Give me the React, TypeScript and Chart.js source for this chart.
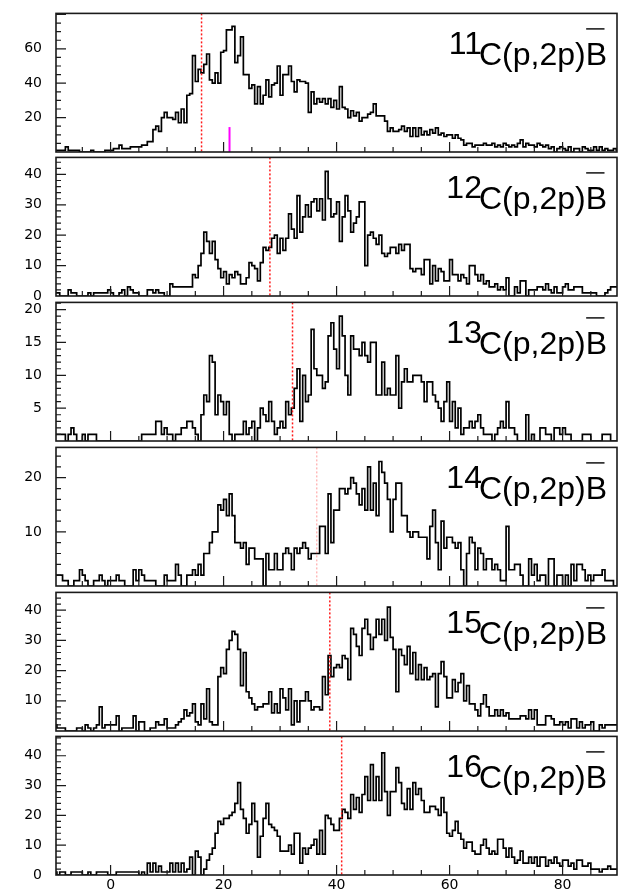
import React, { useEffect, useRef } from "react";
import { Chart, registerables } from "chart.js";

Chart.register(...registerables);

// ---------------- data ----------------
const BIN_LOW = -10;
const BIN_WIDTH = 0.5;
const X_MIN = -9.66;
const X_MAX = 89.63;

const counts11C = [
  1, 1, 1, 1, 3, 1, 1, 1, 1, 0, 0, 0, 0, 1, 0, 0, 0, 0, 1, 1,
  1, 2, 2, 4, 2, 2, 2, 3, 3, 3, 3, 4, 4, 6, 6, 13, 15, 12, 20, 23,
  20, 20, 19, 23, 17, 25, 17, 33, 34, 56, 41, 48, 46, 51, 57, 42, 40, 46, 40, 58,
  59, 71, 71, 73, 52, 56, 67, 45, 45, 37, 39, 28, 38, 28, 33, 42, 32, 39, 40, 50,
  33, 45, 45, 50, 41, 35, 42, 41, 41, 40, 23, 35, 28, 31, 29, 31, 28, 31, 26, 30,
  25, 38, 26, 25, 20, 24, 21, 23, 18, 20, 20, 22, 23, 28, 21, 21, 21, 18, 12, 14,
  12, 12, 13, 15, 12, 14, 9, 14, 9, 14, 10, 12, 10, 13, 11, 14, 10, 11, 9, 10,
  10, 8, 10, 8, 7, 4, 5, 5, 3, 4, 4, 4, 5, 4, 4, 5, 3, 4, 3, 5,
  4, 3, 4, 3, 5, 7, 3, 5, 4, 4, 3, 5, 4, 3, 4, 2, 3, 0, 2, 3,
  2, 1, 3, 0, 2, 2, 0, 3, 2, 1, 1, 3, 1, 3, 1, 2, 1, 1, 2, 1,
];

const counts12C = [
  1, 1, 0, 0, 0, 2, 1, 1, 0, 0, 0, 0, 1, 0, 1, 1, 1, 1, 1, 2,
  1, 0, 0, 1, 2, 0, 3, 2, 1, 1, 0, 0, 0, 2, 2, 1, 2, 1, 1, 0,
  0, 4, 3, 3, 3, 3, 3, 3, 3, 7, 6, 10, 14, 21, 18, 14, 18, 12, 9, 6,
  8, 4, 7, 6, 8, 7, 4, 4, 6, 11, 10, 9, 5, 11, 16, 15, 16, 19, 20, 14,
  19, 15, 19, 27, 22, 19, 33, 21, 26, 30, 26, 31, 32, 28, 32, 25, 41, 32, 26, 27,
  31, 18, 26, 33, 28, 21, 24, 26, 31, 31, 10, 20, 21, 19, 17, 20, 14, 13, 14, 16,
  16, 14, 17, 15, 17, 17, 9, 8, 9, 9, 7, 12, 12, 4, 10, 5, 9, 8, 5, 5,
  12, 7, 7, 5, 7, 6, 4, 10, 10, 7, 5, 7, 4, 5, 3, 3, 4, 2, 3, 2,
  6, 0, 0, 3, 1, 5, 5, 0, 2, 2, 2, 3, 3, 2, 4, 2, 1, 3, 1, 1,
  3, 4, 2, 2, 3, 3, 3, 1, 1, 1, 1, 1, 0, 0, 0, 1, 2, 3, 3, 3,
];

const counts13C = [
  1, 1, 1, 1, 0, 1, 2, 1, 0, 0, 1, 0, 1, 1, 1, 0, 0, 0, 0, 0,
  0, 0, 0, 0, 0, 0, 0, 0, 0, 0, 0, 1, 1, 1, 1, 1, 3, 3, 1, 2,
  1, 1, 0, 1, 1, 2, 2, 3, 3, 2, 1, 0, 4, 7, 6, 13, 12, 4, 7, 6,
  4, 6, 1, 0, 1, 1, 1, 3, 1, 2, 3, 0, 2, 5, 4, 3, 6, 3, 1, 2,
  3, 2, 6, 4, 5, 8, 11, 3, 10, 6, 7, 17, 11, 10, 10, 8, 9, 16, 18, 14,
  11, 19, 16, 10, 7, 16, 14, 14, 13, 15, 13, 12, 15, 15, 7, 7, 12, 7, 8, 7,
  7, 13, 5, 9, 11, 9, 9, 10, 10, 10, 9, 6, 9, 9, 7, 6, 5, 3, 6, 9,
  3, 6, 2, 5, 1, 2, 2, 3, 2, 3, 4, 2, 1, 1, 1, 0, 1, 2, 3, 2,
  6, 2, 2, 1, 0, 0, 0, 4, 0, 1, 0, 0, 2, 2, 1, 1, 0, 2, 2, 1,
  2, 1, 1, 0, 0, 0, 0, 1, 1, 1, 0, 0, 0, 0, 1, 1, 1, 0, 0, 0,
];

const counts14C = [
  2, 2, 2, 1, 1, 0, 0, 1, 1, 3, 2, 1, 0, 0, 1, 1, 2, 1, 0, 1,
  1, 1, 2, 1, 1, 0, 0, 0, 3, 1, 3, 2, 1, 1, 1, 1, 0, 0, 0, 2,
  1, 1, 1, 4, 2, 0, 0, 2, 2, 3, 2, 4, 2, 6, 6, 8, 10, 10, 15, 14,
  16, 13, 17, 13, 8, 8, 7, 8, 4, 7, 7, 5, 5, 5, 0, 6, 3, 3, 6, 3,
  3, 6, 7, 6, 3, 7, 6, 7, 8, 7, 5, 6, 6, 6, 11, 11, 6, 17, 8, 14,
  14, 18, 18, 17, 18, 20, 19, 17, 15, 18, 14, 22, 14, 19, 13, 23, 21, 19, 16, 10,
  16, 19, 19, 13, 13, 10, 9, 10, 10, 9, 9, 9, 5, 11, 14, 8, 3, 12, 7, 9,
  9, 8, 7, 8, 3, 0, 6, 9, 8, 3, 7, 6, 3, 5, 5, 3, 4, 3, 1, 1,
  11, 3, 3, 4, 4, 2, 0, 0, 5, 2, 4, 1, 2, 2, 0, 5, 5, 0, 2, 2,
  0, 2, 0, 4, 1, 4, 4, 3, 1, 2, 1, 2, 2, 2, 3, 1, 1, 1, 0, 0,
];

const counts15C = [
  2, 1, 1, 1, 0, 0, 0, 0, 1, 1, 0, 2, 1, 0, 1, 2, 8, 1, 2, 2,
  2, 2, 5, 0, 1, 1, 1, 1, 5, 0, 3, 3, 0, 0, 1, 1, 3, 2, 2, 4,
  1, 1, 1, 2, 3, 4, 7, 5, 6, 9, 3, 2, 9, 4, 14, 3, 2, 2, 18, 21,
  19, 27, 30, 33, 32, 27, 15, 26, 13, 11, 9, 7, 8, 8, 9, 9, 13, 6, 9, 6,
  14, 11, 7, 14, 2, 10, 3, 10, 10, 13, 10, 7, 8, 8, 7, 18, 12, 25, 18, 21,
  22, 21, 25, 24, 17, 34, 32, 28, 25, 34, 37, 32, 27, 31, 37, 32, 37, 30, 41, 31,
  27, 13, 27, 25, 22, 28, 19, 26, 17, 22, 17, 21, 17, 18, 19, 8, 19, 23, 18, 11,
  11, 17, 13, 16, 19, 10, 15, 9, 9, 7, 5, 9, 12, 8, 5, 5, 7, 5, 7, 5,
  6, 4, 4, 4, 4, 5, 5, 4, 7, 4, 7, 2, 2, 2, 5, 5, 4, 2, 2, 3,
  2, 3, 1, 4, 4, 1, 3, 1, 2, 2, 3, 0, 0, 2, 1, 2, 2, 2, 2, 2,
];

const counts16C = [
  1, 0, 1, 1, 0, 0, 1, 1, 1, 1, 0, 0, 1, 0, 0, 1, 1, 1, 1, 0,
  0, 0, 1, 1, 1, 1, 1, 1, 1, 1, 0, 1, 0, 4, 1, 4, 1, 3, 1, 1,
  1, 4, 1, 4, 1, 4, 1, 2, 6, 0, 8, 6, 0, 2, 5, 7, 9, 14, 18, 17,
  19, 19, 20, 21, 24, 31, 22, 19, 14, 17, 24, 18, 6, 13, 19, 24, 17, 16, 15, 13,
  8, 8, 8, 10, 7, 14, 14, 4, 9, 7, 9, 10, 12, 7, 15, 7, 20, 19, 17, 15,
  15, 19, 22, 21, 19, 27, 22, 26, 21, 27, 33, 25, 37, 25, 33, 25, 41, 28, 20, 28,
  28, 36, 31, 24, 22, 29, 22, 31, 27, 29, 25, 21, 21, 23, 23, 22, 20, 26, 21, 14,
  13, 15, 18, 14, 12, 9, 11, 11, 8, 7, 7, 10, 12, 9, 7, 8, 7, 12, 12, 9,
  6, 9, 6, 4, 5, 8, 4, 4, 6, 4, 6, 3, 6, 6, 3, 5, 4, 6, 4, 3,
  5, 5, 3, 4, 2, 5, 5, 3, 3, 4, 2, 2, 2, 1, 2, 2, 3, 2, 2, 2,
];

const histograms = [counts11C, counts12C, counts13C, counts14C, counts15C, counts16C];
const massNumbers = ["11", "12", "13", "14", "15", "16"];
const cutPositions = [16.1, 28.2, 32.2, 36.5, 38.8, 40.9];
const yMaxima = [80.6, 45.6, 21.1, 25.6, 45.9, 46.5];
const yMajorSteps = [20, 10, 5, 10, 10, 10];
const yMinorSteps = [5, 2, 1, 2, 2, 2];
const yTickLabels = [
  [20, 40, 60],
  [0, 10, 20, 30, 40],
  [5, 10, 15, 20],
  [10, 20],
  [10, 20, 30, 40],
  [0, 10, 20, 30, 40],
];
const xTickLabels = [0, 20, 40, 60, 80];
const markerX = 21.05;
const markerHeight = 14.5;

// ---------------- layout ----------------
const PANEL_TOPS = [11, 155, 300, 445, 590, 734];
const PANEL_HEIGHT = 141;
const PAD_TOP = 20;
const AXIS_HEIGHT = 24;
const CANVAS_W = 619;
const CANVAS_H = PAD_TOP + PANEL_HEIGHT + AXIS_HEIGHT;

const TICK_FONT = '"DejaVu Sans", "Liberation Sans", sans-serif';
const LABEL_FONT = '"Liberation Sans", Arial, Helvetica, sans-serif';

function Panel({ index }: { index: number }) {
  const ref = useRef<HTMLCanvasElement>(null);

  useEffect(() => {
    const canvas = ref.current;
    if (!canvas) return;
    const counts = histograms[index];
    const points = counts.map((c, i) => ({ x: BIN_LOW + i * BIN_WIDTH, y: c }));
    points.push({ x: BIN_LOW + counts.length * BIN_WIDTH, y: counts[counts.length - 1] });
    const isLast = index === histograms.length - 1;
    const major = yMajorSteps[index];
    const minor = yMinorSteps[index];
    const yMax = yMaxima[index];

    const decor = {
      id: "decor",
      afterDatasetsDraw(chart: any) {
        const { ctx, chartArea: a } = chart;
        const xs = chart.scales.x;
        const ys = chart.scales.y;
        ctx.save();

        // cut line
        const cx = xs.getPixelForValue(cutPositions[index]);
        ctx.strokeStyle = index === 3 ? "rgba(255,70,70,0.55)" : "#ff1a1a";
        ctx.lineWidth = index === 3 ? 1 : 1.5;
        ctx.setLineDash([2, 2]);
        ctx.beginPath();
        ctx.moveTo(cx, a.top);
        ctx.lineTo(cx, a.bottom);
        ctx.stroke();
        ctx.setLineDash([]);

        // magenta marker (first panel)
        if (index === 0) {
          const mx = xs.getPixelForValue(markerX);
          ctx.strokeStyle = "#ff00ff";
          ctx.lineWidth = 2;
          ctx.beginPath();
          ctx.moveTo(mx, ys.getPixelForValue(0));
          ctx.lineTo(mx, ys.getPixelForValue(markerHeight));
          ctx.stroke();
        }

        // frame
        ctx.strokeStyle = "#1a1a1a";
        ctx.lineWidth = 1.6;
        ctx.strokeRect(a.left, a.top, a.right - a.left, a.bottom - a.top);

        // inward ticks
        ctx.lineWidth = 1.2;
        ctx.beginPath();
        for (let v = -5; v < X_MAX; v += 5) {
          const px = xs.getPixelForValue(v);
          const len = v % 20 === 0 ? 10 : 5;
          ctx.moveTo(px, a.bottom);
          ctx.lineTo(px, a.bottom - len);
        }
        for (let k = 1; k * minor <= yMax; k++) {
          const v = k * minor;
          const py = ys.getPixelForValue(v);
          const r = v / major;
          const len = Math.abs(r - Math.round(r)) < 1e-6 ? 10 : 5;
          ctx.moveTo(a.left, py);
          ctx.lineTo(a.left + len, py);
        }
        ctx.stroke();

        // reaction label
        ctx.fillStyle = "#000";
        ctx.font = `32px ${LABEL_FONT}`;
        ctx.textBaseline = "alphabetic";
        const main = "C(p,2p)";
        const wB = ctx.measureText("B").width;
        const wMain = ctx.measureText(main).width;
        const right = a.right - 10;
        const xB = right - wB;
        const x0 = xB - wMain;
        const baseY = a.top + 52;
        ctx.textAlign = "left";
        ctx.fillText(main, x0, baseY);
        ctx.fillText("B", xB, baseY);
        ctx.textAlign = "right";
        ctx.fillText(massNumbers[index], x0 + 3, baseY - 11);
        ctx.strokeStyle = "#000";
        ctx.lineWidth = 1.4;
        ctx.beginPath();
        ctx.moveTo(xB + 0.5, a.top + 15.5);
        ctx.lineTo(xB + wB - 2.5, a.top + 15.5);
        ctx.stroke();

        ctx.restore();
      },
    };

    const chart = new Chart(canvas, {
      type: "line",
      data: {
        datasets: [
          {
            data: points,
            borderColor: "#000",
            borderWidth: 1.7,
            pointRadius: 0,
            stepped: true,
            fill: false,
            tension: 0,
            borderJoinStyle: "miter",
            borderCapStyle: "butt",
          } as any,
        ],
      },
      options: {
        responsive: false,
        animation: false,
        devicePixelRatio: 1,
        events: [],
        layout: { padding: { top: PAD_TOP, right: 2, bottom: 0, left: 0 } },
        plugins: {
          legend: { display: false },
          tooltip: { enabled: false },
          title: { display: false },
        },
        scales: {
          x: {
            type: "linear",
            min: X_MIN,
            max: X_MAX,
            grid: { display: false, drawTicks: false },
            border: { display: false },
            afterBuildTicks: (s: any) => {
              s.ticks = xTickLabels.map((v) => ({ value: v }));
            },
            afterFit: (s: any) => {
              s.height = AXIS_HEIGHT;
            },
            ticks: {
              display: isLast,
              autoSkip: false,
              maxRotation: 0,
              padding: 2,
              color: "#000",
              font: { family: TICK_FONT, size: 14 },
              callback: (v: any) => String(v),
            },
          },
          y: {
            type: "linear",
            min: 0,
            max: yMax,
            grid: { display: false, drawTicks: false },
            border: { display: false },
            afterBuildTicks: (s: any) => {
              s.ticks = yTickLabels[index].map((v) => ({ value: v }));
            },
            afterFit: (s: any) => {
              s.width = 56;
            },
            ticks: {
              autoSkip: false,
              padding: 14,
              color: "#000",
              font: { family: TICK_FONT, size: 14 },
              callback: (v: any) => String(v),
            },
          },
        },
      } as any,
      plugins: [decor],
    });
    return () => chart.destroy();
  }, [index]);

  return (
    <canvas
      ref={ref}
      width={CANVAS_W}
      height={CANVAS_H}
      style={{ position: "absolute", left: 0, top: PANEL_TOPS[index] - PAD_TOP }}
    />
  );
}

export default function App() {
  return (
    <div
      style={{
        position: "absolute",
        left: 0,
        top: 0,
        width: 619,
        height: 892,
        background: "#fff",
        overflow: "hidden",
      }}
    >
      {histograms.map((_, i) => (
        <Panel key={i} index={i} />
      ))}
    </div>
  );
}
